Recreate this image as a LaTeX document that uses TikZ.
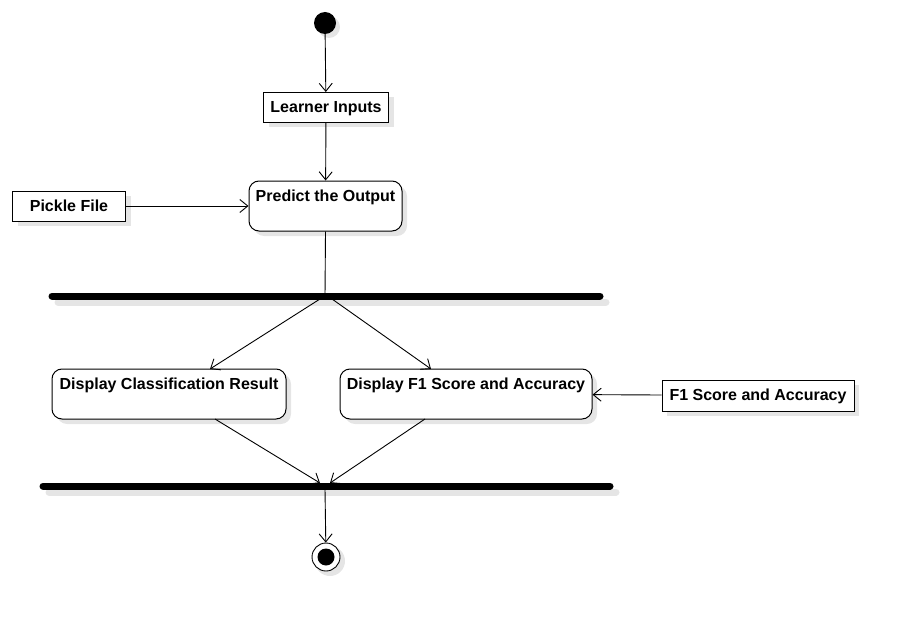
\documentclass[tikz,border=0pt]{standalone}
\usepackage{fontspec}
\setmainfont{Liberation Sans}
\usetikzlibrary{arrows.meta,shadows}
\begin{document}
\begin{tikzpicture}[x=1pt,y=-1pt,
  shad/.style={drop shadow={shadow xshift=5pt,shadow yshift=-5pt,fill=black!10,opacity=1}},
  objbox/.style={draw,line width=1pt,fill=white,shad,minimum height=30pt,inner sep=0pt,text height=12pt,text depth=2pt,font=\bfseries\fontsize{16}{18}\selectfont},
  actbox/.style={draw,line width=1pt,fill=white,rounded corners=10pt,shad,minimum height=50pt,inner sep=0pt},
  acttext/.style={font=\bfseries\fontsize{16}{18}\selectfont,inner sep=0pt},
  flow/.style={draw,line width=0.9pt,-{Straight Barb[length=8pt,width=13pt,line width=0.9pt]}},
  bar/.style={line width=7pt,line cap=round},
  barshadow/.style={line width=7pt,line cap=round,draw=black!10}]
\useasboundingbox (0,0) rectangle (902,623);
% start
\fill[black!10] (329,27) circle (11);
\node[circle,fill=black,minimum size=22pt,inner sep=0pt] (start) at (325,23) {};
% learner inputs
\node[objbox,minimum width=125pt] (learner) at (326,107.5) {Learner Inputs};
% predict
\node[actbox,minimum width=153pt] (predict) at (325.5,206) {};
\node[acttext] (predictT) at (325.5,197.5) {Predict the Output};
% pickle
\node[objbox,minimum width=113pt] (pickle) at (69,206) {Pickle File};
% bar 1
\coordinate (b1l) at (52,296);
\coordinate (b1r) at (600,296);
\draw[barshadow] ([shift={(6,6)}]b1l) -- ([shift={(6,6)}]b1r);
\draw[bar] (b1l) -- (b1r);
\coordinate (b1in) at (325,296);
\coordinate (b1a) at (320,299);
\coordinate (b1b) at (332,299);
% display nodes
\node[actbox,minimum width=234pt] (dcr) at (169,394) {};
\node[acttext] (dcrT) at (169,385.5) {Display Classification Result};
\node[actbox,minimum width=252pt] (df1) at (466,394) {};
\node[acttext] (df1T) at (466,385.5) {Display F1 Score and Accuracy};
\node[objbox,minimum width=192pt,minimum height=31pt] (f1sa) at (758,395.5) {F1 Score and Accuracy};
% bar 2
\coordinate (b2l) at (43,486);
\coordinate (b2r) at (610,486);
\draw[barshadow] ([shift={(6,6)}]b2l) -- ([shift={(6,6)}]b2r);
\draw[bar] (b2l) -- (b2r);
\coordinate (b2a) at (320,483);
\coordinate (b2b) at (330,483);
\coordinate (b2out) at (325,489);
% end
\fill[black!10] (330,561) circle (15);
\node[circle,draw,line width=0.9pt,fill=white,minimum size=28pt,inner sep=0pt] (endo) at (326,557) {};
\node[circle,fill=black,minimum size=17pt,inner sep=0pt] (endi) at (326,557) {};
% connectors
\path[flow] (start) -- (learner);
\path[flow] (learner) -- (predict);
\path[flow] (pickle) -- (predict);
\path[draw,line width=0.9pt] (predict.south) -- (b1in);
\path[flow] (b1a) -- (210,369);
\path[flow] (b1b) -- (431,369);
\path[flow] (f1sa) -- (df1);
\path[flow] (215,419) -- (b2a);
\path[flow] (425,419) -- (b2b);
\path[flow] (b2out) -- (endo);
\end{tikzpicture}
\end{document}
